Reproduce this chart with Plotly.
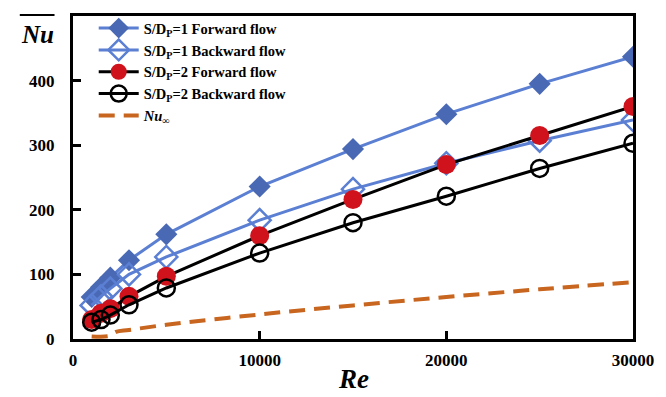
import plotly.graph_objects as go

re_vals = [1000, 1500, 2000, 3000, 5000, 10000, 15000, 20000, 25000, 30000]
nu_s1_fwd = [65, 80, 95, 122, 162, 236, 294, 348, 395, 437]
nu_s1_bwd = [52, 66, 78, 100, 127, 184, 232, 272, 307, 339]
nu_s2_fwd = [30, 40, 47, 66, 97, 160, 216, 270, 315, 360]
nu_s2_bwd = [26, 30, 37, 53, 79, 133, 180, 221, 264, 303]
re_inf = [1000, 2000, 2300, 3000, 5000, 10000, 15000, 20000, 25000, 30000]
nu_inf = [4, 5, 11, 14, 22, 38, 52, 65, 77, 88]

FONT = "Liberation Serif"
BLUE_LINE = "#5B7FD2"
BLUE_FILL = "#4A69B5"
RED = "#D0121C"
ORANGE = "#C8651E"

fig = go.Figure()
fig.add_trace(go.Scatter(x=re_vals, y=nu_s1_fwd, mode="lines+markers",
    name="<b>S/D<sub>P</sub>=1 Forward flow</b>",
    line=dict(color=BLUE_LINE, width=3),
    marker=dict(symbol="diamond", size=17, color=BLUE_FILL)))
fig.add_trace(go.Scatter(x=re_vals, y=nu_s1_bwd, mode="lines+markers",
    name="<b>S/D<sub>P</sub>=1 Backward flow</b>",
    line=dict(color=BLUE_LINE, width=3),
    marker=dict(symbol="diamond-open", size=17, color=BLUE_LINE, line=dict(width=2.5, color=BLUE_LINE))))
fig.add_trace(go.Scatter(x=re_vals, y=nu_s2_fwd, mode="lines+markers",
    name="<b>S/D<sub>P</sub>=2 Forward flow</b>",
    line=dict(color="black", width=3),
    marker=dict(symbol="circle", size=19, color=RED)))
fig.add_trace(go.Scatter(x=re_vals, y=nu_s2_bwd, mode="lines+markers",
    name="<b>S/D<sub>P</sub>=2 Backward flow</b>",
    line=dict(color="black", width=3),
    marker=dict(symbol="circle-open", size=17, color="black", line=dict(width=2.5, color="black"))))
fig.add_trace(go.Scatter(x=re_inf, y=nu_inf, mode="lines",
    name="<b><i>Nu</i><sub>∞</sub></b>",
    line=dict(color=ORANGE, width=4, dash="16px,9px", shape="spline")))

axis_common = dict(showgrid=False, zeroline=False, showline=True, linecolor="black",
                   linewidth=3, mirror=True, ticks="inside", ticklen=8, tickwidth=3,
                   tickcolor="black",
                   tickfont=dict(family=FONT, size=17, color="black", weight="bold"))
fig.update_xaxes(range=[0, 30000], tickvals=[0, 10000, 20000, 30000],
                 ticktext=["0", "10000", "20000", "30000"], ticklabelstandoff=4, **axis_common)
fig.update_yaxes(range=[0, 500], tickvals=[0, 100, 200, 300, 400],
                 ticklabelstandoff=12, **axis_common)

fig.update_layout(
    width=666, height=397,
    margin=dict(l=73, r=25, t=12, b=58),
    paper_bgcolor="white", plot_bgcolor="white",
    showlegend=True,
    legend=dict(x=0.037, y=1.012, xanchor="left", yanchor="top",
                bgcolor="rgba(0,0,0,0)", font=dict(family=FONT, size=14.5, color="black"),
                tracegroupgap=0, itemwidth=40),
    annotations=[
        dict(text="<b><i>Re</i></b>", xref="paper", yref="paper", x=0.5, y=-0.07,
             xanchor="center", yanchor="top", showarrow=False,
             font=dict(family=FONT, size=27, color="black")),
        dict(text="<b><i>Nu</i></b>", xref="paper", yref="paper", x=-0.03, y=0.99,
             xanchor="right", yanchor="top", showarrow=False,
             font=dict(family=FONT, size=25, color="black")),
    ],
    shapes=[dict(type="line", xref="paper", yref="paper", x0=-0.095, x1=-0.033,
                 y0=1.003, y1=1.003, line=dict(color="black", width=2))],
)

fig.write_html("out.html")
